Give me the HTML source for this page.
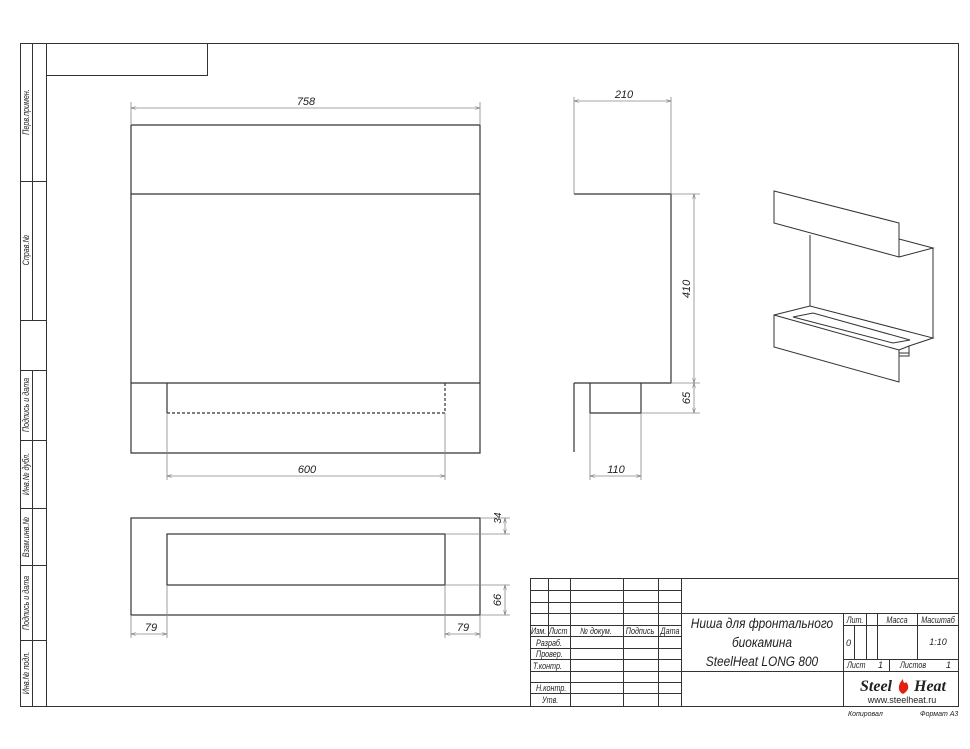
<!DOCTYPE html>
<html><head><meta charset="utf-8"><style>
html,body{margin:0;padding:0;background:#fff;}
svg{display:block;}
text{font-family:"Liberation Sans",sans-serif;font-style:italic;fill:#222;}
</style></head><body>
<svg width="970" height="749" viewBox="0 0 970 749" xmlns="http://www.w3.org/2000/svg">
<defs>
<marker id="a" viewBox="0 0 10 6" refX="10" refY="3" markerWidth="8" markerHeight="4" orient="auto-start-reverse"><path d="M0,0L10,3L0,6" fill="none" stroke="#777" stroke-width="1"/></marker>
</defs>
<g fill="none" stroke="#333" stroke-width="1">
<rect x="20.5" y="43.5" width="938" height="663"/>
<line x1="46.5" y1="43" x2="46.5" y2="706"/>
<rect x="46.5" y="43.5" width="161" height="32"/>
<path d="M20,181.5H46M20,320.5H46M32.5,43V320"/>
<path d="M20,370.5H46M20,440.5H46M20,508.5H46M20,565.5H46M20,640.5H46M32.5,370V706"/>
</g>
<g font-size="9">
<text transform="translate(29,112) rotate(-90) scale(0.8,1)" text-anchor="middle">Перв.примен.</text>
<text transform="translate(29,250) rotate(-90) scale(0.8,1)" text-anchor="middle">Справ.№</text>
<text transform="translate(29,405) rotate(-90) scale(0.8,1)" text-anchor="middle">Подпись и дата</text>
<text transform="translate(29,474) rotate(-90) scale(0.8,1)" text-anchor="middle">Инв.№ дубл.</text>
<text transform="translate(29,537) rotate(-90) scale(0.8,1)" text-anchor="middle">Взам.инв.№</text>
<text transform="translate(29,603) rotate(-90) scale(0.8,1)" text-anchor="middle">Подпись и дата</text>
<text transform="translate(29,673) rotate(-90) scale(0.8,1)" text-anchor="middle">Инв.№ подл.</text>
</g>

<g fill="none" stroke="#333" stroke-width="1.2">
<path d="M131,125H480M131,125V453H480V125M131,194H480M131,383H480M167,383V413"/>
<path d="M167,413H445V383" stroke-dasharray="3,2"/>
</g>
<g fill="none" stroke="#888" stroke-width="0.8">
<path d="M131,125V102M480,125V102M167,413V480M445,413V480"/>
<line x1="131" y1="108" x2="480" y2="108" marker-start="url(#a)" marker-end="url(#a)"/>
<line x1="167" y1="476" x2="445" y2="476" marker-start="url(#a)" marker-end="url(#a)"/>
</g>
<text x="306" y="105" font-size="11" text-anchor="middle">758</text>
<text x="307" y="473" font-size="11" text-anchor="middle">600</text>

<g fill="none" stroke="#333" stroke-width="1.2">
<path d="M574,194H671V383H574M574,383V452M590,383V413H641V383"/>
</g>
<g fill="none" stroke="#888" stroke-width="0.8">
<path d="M574,194V97M671,194V97M671,194H700M671,383H700M641,413H700M590,413V480M641,413V480"/>
<line x1="574" y1="101" x2="671" y2="101" marker-start="url(#a)" marker-end="url(#a)"/>
<line x1="694" y1="194" x2="694" y2="383" marker-start="url(#a)" marker-end="url(#a)"/>
<line x1="694" y1="383" x2="694" y2="413" marker-start="url(#a)" marker-end="url(#a)"/>
<line x1="590" y1="476" x2="641" y2="476" marker-start="url(#a)" marker-end="url(#a)"/>
</g>
<text x="624" y="98" font-size="11" text-anchor="middle">210</text>
<text x="616" y="473" font-size="11" text-anchor="middle">110</text>
<text transform="translate(690,289) rotate(-90)" font-size="11" text-anchor="middle">410</text>
<text transform="translate(690,398) rotate(-90)" font-size="11" text-anchor="middle">65</text>

<g fill="none" stroke="#333" stroke-width="1.2">
<rect x="131" y="518" width="349" height="97"/>
<rect x="167" y="534" width="278" height="51"/>
</g>
<g fill="none" stroke="#888" stroke-width="0.8">
<path d="M480,518H510M445,534H510M445,585H510M480,615H510M131,615V638M167,585V638M445,585V638M480,615V638"/>
<line x1="505" y1="518" x2="505" y2="534" marker-start="url(#a)" marker-end="url(#a)"/>
<line x1="505" y1="585" x2="505" y2="615" marker-start="url(#a)" marker-end="url(#a)"/>
<line x1="131" y1="634" x2="167" y2="634" marker-start="url(#a)" marker-end="url(#a)"/>
<line x1="445" y1="634" x2="480" y2="634" marker-start="url(#a)" marker-end="url(#a)"/>
</g>
<text x="151" y="631" font-size="11" text-anchor="middle">79</text>
<text x="463" y="631" font-size="11" text-anchor="middle">79</text>
<text transform="translate(501,518) rotate(-90)" font-size="10" text-anchor="middle">34</text>
<text transform="translate(501,600) rotate(-90)" font-size="11" text-anchor="middle">66</text>

<g fill="none" stroke="#333" stroke-width="1">
<path d="M774,191L899,223V257L774,223Z"/>
<path d="M899,239L933,248L899,257M933,248V338"/>
<path d="M810,235V306"/>
<path d="M774,315L899,350V382L774,347Z"/>
<path d="M774,315L810,306L933,338L909,346L899,350"/>
<path d="M793,317L813,313L910,340L893,343Z"/>
<path d="M899,353H909V346M899,356H909V353"/>
</g>

<g fill="none" stroke="#333" stroke-width="1">
<rect x="530.5" y="578.5" width="428" height="128"/>
<path d="M530,590.5H681M530,602.5H681M530,613.5H958M530,625.5H681M530,636.5H681M530,648.5H681M530,659.5H681M530,671.5H958M530,682.5H681M530,693.5H681"/>
<path d="M548.5,578V636M570.5,578V706M623.5,578V706M658.5,578V706M681.5,578V706"/>
<path d="M843.5,613V706M843,625.5H958M843,659.5H958M854.5,625V659M866.5,613V659M877.5,613V659M917.5,613V659M889.5,659V671"/>
</g>
<g font-size="9">
<text x="531" y="634" transform="translate(531,0) scale(0.8,1) translate(-531,0)">Изм.</text>
<text x="549" y="634" transform="translate(549,0) scale(0.8,1) translate(-549,0)">Лист</text>
<text x="596" y="634" text-anchor="middle" transform="translate(596,0) scale(0.8,1) translate(-596,0)">№ докум.</text>
<text x="640" y="634" text-anchor="middle" transform="translate(640,0) scale(0.8,1) translate(-640,0)">Подпись</text>
<text x="670" y="634" text-anchor="middle" transform="translate(670,0) scale(0.8,1) translate(-670,0)">Дата</text>
<text x="536" y="646" transform="translate(536,0) scale(0.8,1) translate(-536,0)">Разраб.</text>
<text x="536" y="657" transform="translate(536,0) scale(0.8,1) translate(-536,0)">Провер.</text>
<text x="533" y="669" transform="translate(533,0) scale(0.8,1) translate(-533,0)">Т.контр.</text>
<text x="536" y="691" transform="translate(536,0) scale(0.8,1) translate(-536,0)">Н.контр.</text>
<text x="542" y="703" transform="translate(542,0) scale(0.8,1) translate(-542,0)">Утв.</text>
<text x="855" y="623" text-anchor="middle" transform="translate(855,0) scale(0.8,1) translate(-855,0)">Лит.</text>
<text x="897" y="623" text-anchor="middle" transform="translate(897,0) scale(0.8,1) translate(-897,0)">Масса</text>
<text x="938" y="623" text-anchor="middle" transform="translate(938,0) scale(0.8,1) translate(-938,0)">Масштаб</text>
<text x="846" y="646">0</text>
<text x="938" y="645" text-anchor="middle">1:10</text>
<text x="847" y="668" transform="translate(847,0) scale(0.8,1) translate(-847,0)">Лист</text>
<text x="878" y="668">1</text>
<text x="900" y="668" transform="translate(900,0) scale(0.8,1) translate(-900,0)">Листов</text>
<text x="946" y="668">1</text>
</g>
<g font-size="14" text-anchor="middle">
<text x="762" y="628" transform="translate(762,0) scale(0.85,1) translate(-762,0)">Ниша для фронтального</text>
<text x="762" y="647" transform="translate(762,0) scale(0.85,1) translate(-762,0)">биокамина</text>
<text x="762" y="666" transform="translate(762,0) scale(0.85,1) translate(-762,0)">SteelHeat LONG 800</text>
</g>
<text x="876" y="691" font-size="16" font-weight="bold" text-anchor="middle" style="font-family:'Liberation Serif',serif" fill="#333">Steel</text>
<path d="M903,694c-6,-3 -5,-10 0,-15c0,4 2,5 3,3c3,3 4,8 -3,12z" fill="#e02010"/>
<text x="930" y="691" font-size="16" font-weight="bold" text-anchor="middle" style="font-family:'Liberation Serif',serif" fill="#333">Heat</text>
<text x="902" y="703" font-size="9" text-anchor="middle" style="font-style:normal">www.steelheat.ru</text>
<text x="848" y="716" font-size="7" fill="#777">Копировал</text>
<text x="920" y="716" font-size="7" fill="#777">Формат А3</text>
</svg>
</body></html>
